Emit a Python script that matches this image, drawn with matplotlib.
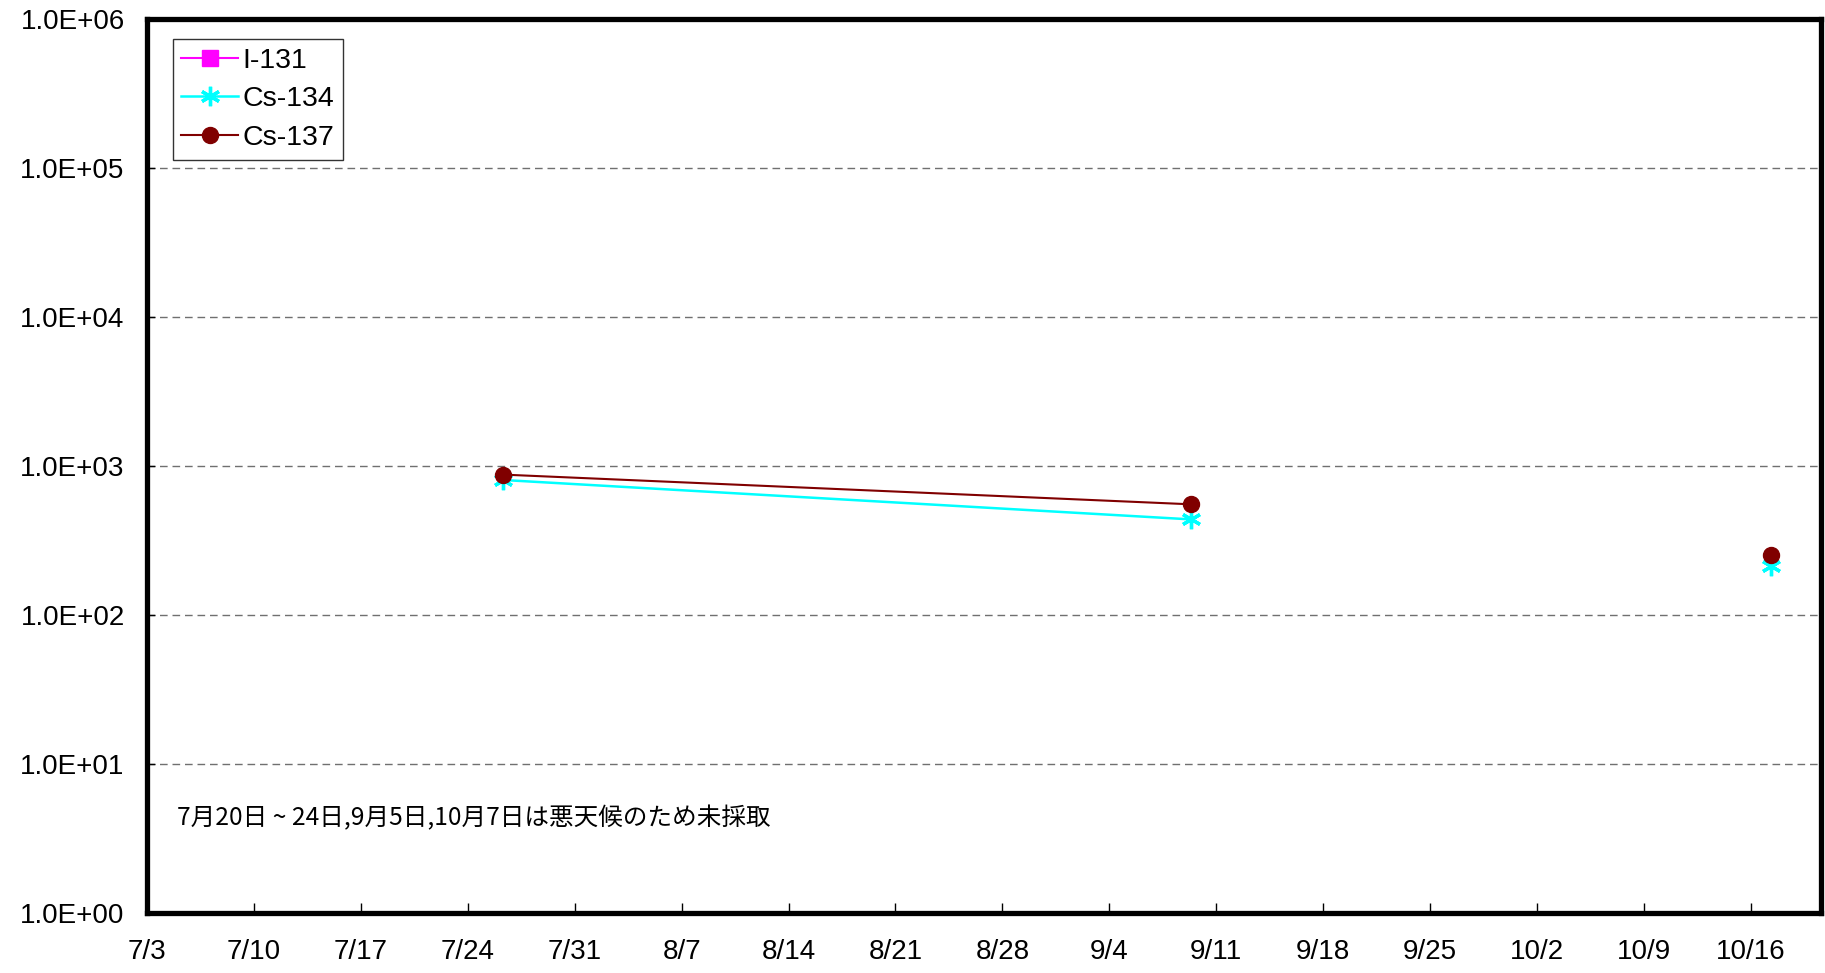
import datetime as dt
import numpy as np
import matplotlib
matplotlib.use("Agg")
import matplotlib.pyplot as plt
import matplotlib.dates as mdates
from matplotlib.ticker import FixedLocator, FuncFormatter, NullLocator

# ---- data ----
dates = ["2011-07-26 08:00", "2011-09-09 08:00", "2011-10-07 08:00", "2011-10-17 08:00"]
i131 = [np.nan, np.nan, np.nan, np.nan]
cs134 = [805, 438, np.nan, 212]
cs137 = [875, 553, np.nan, 251]
series_names = ["I-131", "Cs-134", "Cs-137"]
y_tick_labels = ["1.0E+00", "1.0E+01", "1.0E+02", "1.0E+03", "1.0E+04", "1.0E+05", "1.0E+06"]
x_start, x_end = "2011-07-03 00:00", "2011-10-20 14:00"
note = "7月20日 ~ 24日,9月5日,10月7日は悪天候のため未採取"

fmt = "%Y-%m-%d %H:%M"
x = [dt.datetime.strptime(d, fmt) for d in dates]
xs = dt.datetime.strptime(x_start, fmt)
xe = dt.datetime.strptime(x_end, fmt)

plt.rcParams['font.family'] = ['Liberation Sans', 'DejaVu Sans']

fig = plt.figure(figsize=(18.25, 9.73), dpi=100)
ax = fig.add_axes([0.0805, 0.0617, 0.9173, 0.9188])

ax.plot(x, i131, color="#FF00FF", marker="s", markersize=11, lw=1.5, label=series_names[0])
ax.plot(x, cs134, color="#00FFFF", marker=(6, 2, 0), markersize=14, mew=2.4, lw=1.8, label=series_names[1])
ax.plot(x, cs137, color="#800000", marker="o", markersize=11.5, lw=1.5, label=series_names[2])

ax.set_yscale("log")
ax.set_ylim(1, 1e6)
ax.yaxis.set_major_locator(FixedLocator([10.0 ** k for k in range(7)]))
ax.yaxis.set_minor_locator(NullLocator())
ax.set_yticklabels(y_tick_labels)

ax.set_xlim(mdates.date2num(xs), mdates.date2num(xe))
ticks = [xs + dt.timedelta(days=7 * k) for k in range(16)]
ax.xaxis.set_major_locator(FixedLocator(mdates.date2num(ticks)))
ax.xaxis.set_major_formatter(FuncFormatter(
    lambda v, p: f"{mdates.num2date(v).month}/{mdates.num2date(v).day}"))

ax.yaxis.grid(True, color="#707070", linestyle=(0, (5.5, 3.5)), lw=1)
ax.set_axisbelow(True)

for s in ax.spines.values():
    s.set_linewidth(3.8)
    s.set_color("black")

ax.tick_params(axis="x", direction="in", length=7, width=1, pad=19, labelsize=20, colors="black")
ax.tick_params(axis="y", direction="in", length=6, width=1, pad=16, labelsize=20, colors="black")

leg = ax.legend(loc="upper left", bbox_to_anchor=(0.0155, 0.9776), borderaxespad=0,
                fontsize=20.5, frameon=True, fancybox=False, shadow=False,
                handlelength=2.0, handletextpad=0.15, labelspacing=0.45, borderpad=0.3)
leg.get_frame().set_edgecolor("black")
leg.get_frame().set_linewidth(1.0)

ax.text(0.018, 0.106, note, transform=ax.transAxes, fontsize=17.7, va="center", ha="left",
        family=["Noto Sans CJK JP", "DejaVu Sans"])

fig.savefig("out.png", dpi=100)
